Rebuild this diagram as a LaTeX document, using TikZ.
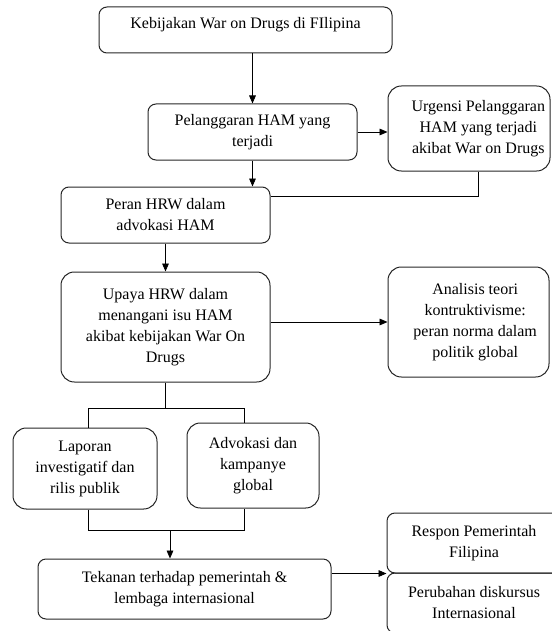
\documentclass[tikz,border=0pt]{standalone}
\usepackage{fontspec}
\setmainfont{Liberation Serif}
\usetikzlibrary{arrows.meta}

\begin{document}
\begin{tikzpicture}[x=0.75pt,y=-0.75pt,font=\fontsize{12}{15.75}\selectfont,
  box/.style={draw=black!85,line width=0.75pt,rounded corners=6pt,align=center,inner sep=2pt},
  bigbox/.style={box,rounded corners=10pt},
  arr/.style={-{Triangle[length=6pt,width=5pt]},line width=0.65pt},
  line/.style={line width=0.65pt}]
\useasboundingbox (0,0) rectangle (551,631);

% boxes
\node[box,minimum width=219.75pt,minimum height=34.5pt,
  label={[yshift=3.75pt]center:Kebijakan War on Drugs di FIlipina}] (kebijakan) at (245.5,30) {};
\node[box,minimum width=156.75pt,minimum height=42pt] (pelanggaran) at (252.5,132) {Pelanggaran HAM yang\\terjadi};
\node[bigbox,minimum width=121.5pt,minimum height=63.75pt,
  label={[align=center,xshift=7pt]center:Urgensi Pelanggaran\\HAM yang terjadi\\akibat War on Drugs}] (urgensi) at (469,128.5) {};
\node[box,minimum width=156.75pt,minimum height=42pt] (peran) at (165.5,215) {Peran HRW dalam\\advokasi HAM};
\node[bigbox,minimum width=156.75pt,minimum height=82.5pt] (upaya) at (165.5,327) {Upaya HRW dalam\\menangani isu HAM\\akibat kebijakan War On\\Drugs};
\node[bigbox,minimum width=120.75pt,minimum height=82.5pt,
  label={[align=center,xshift=5pt]center:Analisis teori\\kontruktivisme:\\peran norma dalam\\politik global}] (analisis) at (468.5,322) {};
\node[bigbox,minimum width=108pt,minimum height=60.75pt] (laporan) at (85,468.5) {Laporan\\investigatif dan\\rilis publik};
\node[bigbox,minimum width=99pt,minimum height=63.75pt] (advokasi) at (253,465.5) {Advokasi dan\\kampanye\\global};
\node[box,minimum width=219.75pt,minimum height=45pt] (tekanan) at (184.5,589) {Tekanan terhadap pemerintah \&\\lembaga internasional};
\node[box,minimum width=130.5pt,minimum height=45pt] (respon) at (474,543) {Respon Pemerintah\\Filipina};
\node[box,minimum width=130.5pt,minimum height=45pt] (perubahan) at (474,603) {Perubahan diskursus\\Internasional};

% connectors
\coordinate (u1) at (478,196);
\coordinate (c1) at (88,408);
\coordinate (c2) at (244,408);
\coordinate (d1) at (88,530);
\coordinate (d2) at (244,530);
\coordinate (d3) at (170,530);

\draw[arr] (kebijakan.south -| pelanggaran.north) -- (pelanggaran.north);
\draw[arr] (pelanggaran.east) -- (pelanggaran.east -| urgensi.west);
\draw[arr] (pelanggaran.south) -- (pelanggaran.south |- peran.north);
\draw[line] (urgensi.south -| u1) -- (u1) -- (u1 -| peran.east);
\draw[arr] (peran.south) -- (upaya.north);
\draw[arr] (analisis.west -| upaya.east) -- (analisis.west);
\draw[line] (upaya.south) -- (upaya.south |- c1);
\draw[line] (laporan.north -| c1) -- (c1) -- (c2) -- (c2 |- advokasi.north);
\draw[line] (laporan.south -| d1) -- (d1) -- (d2) -- (d2 |- advokasi.south);
\draw[arr] (d3) -- (d3 |- tekanan.north);
\draw[arr] (tekanan.east |- respon.south west) -- (respon.south west);

\end{tikzpicture}
\end{document}
